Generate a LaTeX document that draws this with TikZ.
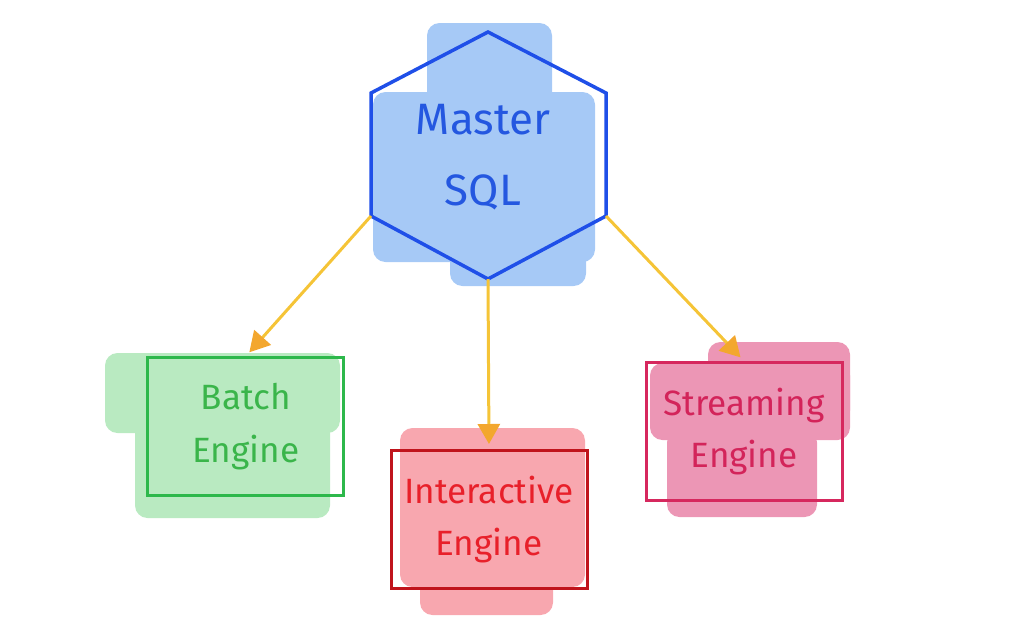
\documentclass[tikz,border=0pt]{standalone}
\usepackage{fontspec}
\setmainfont{Fira Sans}
\usepackage{xcolor}
\usepackage{tikz}
\usetikzlibrary{
  arrows.meta,
  positioning
}
\definecolor{msBlue}{HTML}{1F4FE8}
\definecolor{msBlueInk}{HTML}{2457E0}
\definecolor{msBlueFill}{HTML}{A6C9F6}
\definecolor{msGreen}{HTML}{2DB84B}
\definecolor{msGreenInk}{HTML}{3AB54A}
\definecolor{msGreenFill}{HTML}{B9EAC1}
\definecolor{msRed}{HTML}{C0141C}
\definecolor{msRedInk}{HTML}{E8202A}
\definecolor{msRedFill}{HTML}{F8A7AF}
\definecolor{msPink}{HTML}{D6285E}
\definecolor{msPinkInk}{HTML}{D3245A}
\definecolor{msPinkFill}{HTML}{EC96B5}
\definecolor{msArrow}{HTML}{F5C437}
\definecolor{msTip}{HTML}{F3A72E}
\tikzset{
  smudge/.style={fill=#1, rounded corners=2.5mm},
  hexline/.style={draw=msBlue, line width=0.7mm, line join=miter},
  mastertext/.style={font=\fontsize{25}{40}\selectfont, text=msBlueInk, align=center},
  engine/.style={
    draw, line width=0.6mm, minimum width=39.2mm, minimum height=27.6mm,
    font=\fontsize{20}{30}\selectfont, align=center
  },
  batchbox/.style={engine, draw=msGreen, text=msGreenInk},
  interbox/.style={engine, draw=msRed, text=msRedInk},
  streambox/.style={engine, draw=msPink, text=msPinkInk},
  flow/.style={-{Triangle[length=4mm, width=4.4mm, color=msTip]}, line width=0.6mm, msArrow, shorten >=1mm}
}
\begin{document}
\begin{tikzpicture}[x=0.2mm, y=-0.2mm]
  \useasboundingbox (0,0) rectangle (1024,631);
  % marker fills
  \fill[smudge=msBlueFill] (427,23) rectangle (552,110);
  \fill[smudge=msBlueFill] (373,92) rectangle (595,262);
  \fill[smudge=msBlueFill] (450,240) rectangle (586,286);
  \fill[smudge=msGreenFill] (105,353) rectangle (340,433);
  \fill[smudge=msGreenFill] (135,420) rectangle (330,518);
  \fill[smudge=msRedFill] (400,428) rectangle (585,587);
  \fill[smudge=msRedFill] (420,560) rectangle (553,615);
  \fill[smudge=msPinkFill] (708,342) rectangle (850,423);
  \fill[smudge=msPinkFill] (650,363) rectangle (850,440);
  \fill[smudge=msPinkFill] (667,430) rectangle (817,517);

  \coordinate (hexN) at (488,32);
  \coordinate (hexNW) at (371,93);
  \coordinate (hexSW) at (371,216);
  \coordinate (hexS) at (488,279);
  \coordinate (hexSE) at (606,216);
  \coordinate (hexNE) at (606,93);
  \draw[hexline] (hexN) -- (hexNW) -- (hexSW) -- (hexS) -- (hexSE) -- (hexNE) -- cycle;
  \node[mastertext] (master) at (483,157) {Master\\SQL};

  \node[batchbox, below=15.4mm of hexS, xshift=-48.4mm] (batch) {Batch\\Engine};
  \node[interbox, below=34mm of hexS, xshift=0.2mm] (inter) {Interactive\\Engine};
  \node[streambox, below=16.4mm of hexS, xshift=51.2mm] (stream) {Streaming\\Engine};

  \foreach \c/\n in {hexSW/batch, hexS/inter, hexSE/stream}{\draw[flow] (\c) -- (\n.north);}
\end{tikzpicture}
\end{document}
